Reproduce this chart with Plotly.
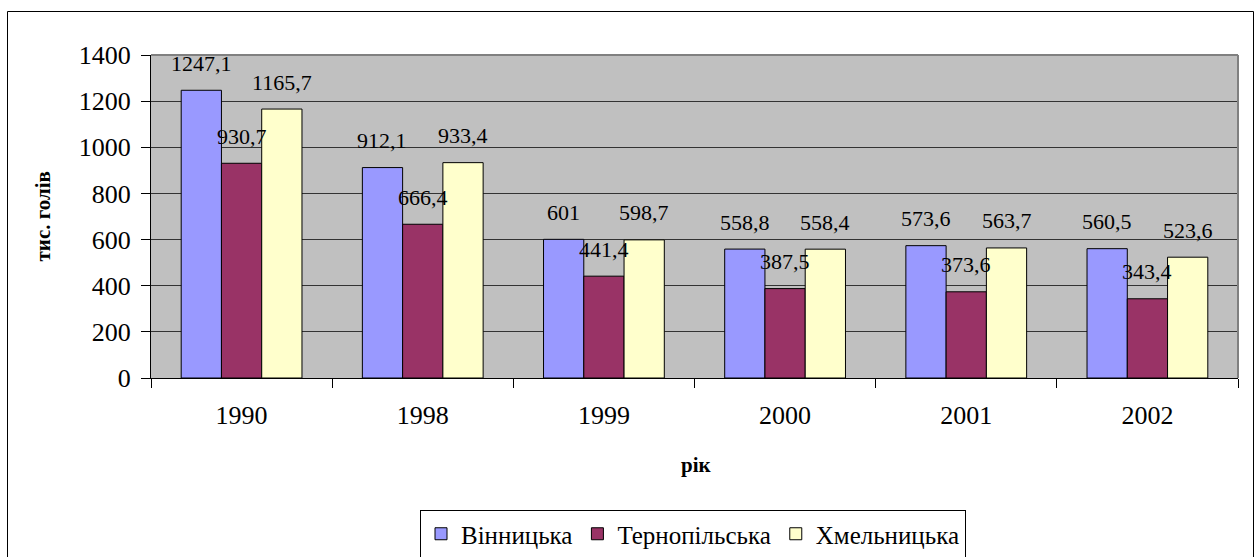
import plotly.graph_objects as go

years = ["1990", "1998", "1999", "2000", "2001", "2002"]
vinnytska = [1247.1, 912.1, 601, 558.8, 573.6, 560.5]
ternopilska = [930.7, 666.4, 441.4, 387.5, 373.6, 343.4]
khmelnytska = [1165.7, 933.4, 598.7, 558.4, 563.7, 523.6]

series = [
    ("Вінницька", vinnytska, "#9999FF"),
    ("Тернопільська", ternopilska, "#993366"),
    ("Хмельницька", khmelnytska, "#FFFFCC"),
]

FONT = "Liberation Serif"

W, H = 1258, 557
# target plot area in page pixels: x 151..1238, y 55..378
L, R, T, B = 151, 1258 - 1238, 55, 557 - 378
pw, ph = W - L - R, H - T - B

def px_x(x):
    return (x - L) / pw

def px_y(y):
    return (H - B - y) / ph

def fmt(v):
    s = ("%.1f" % v).rstrip("0").rstrip(".")
    return s.replace(".", ",")

fig = go.Figure()
for name, vals, color in series:
    fig.add_trace(go.Bar(
        x=years, y=vals, name=name,
        marker=dict(color=color, line=dict(color="black", width=1)),
    ))

# data labels (x given as category index)
cat_w = pw / len(years)
bar_w = cat_w * (1 - 1/3) / 3
annotations = []
for i, (name, vals, color) in enumerate(series):
    for j, v in enumerate(vals):
        annotations.append(dict(
            x=j, y=v, xref="x", yref="y", text=fmt(v), showarrow=False,
            xshift=(i - 1) * bar_w, yshift=27, yanchor="middle",
            font=dict(family=FONT, size=22, color="black"),
        ))

annotations.append(dict(
    x=px_x(42), y=0.5, xref="paper", yref="paper", text="<b>тис. голів</b>",
    textangle=-90, showarrow=False, xanchor="center", yanchor="middle",
    font=dict(family=FONT, size=21, color="black"),
))
annotations.append(dict(
    x=px_x(696), y=px_y(465), xref="paper", yref="paper", text="<b>рік</b>",
    showarrow=False, xanchor="center", yanchor="middle",
    font=dict(family=FONT, size=21, color="black"),
))

shapes = [
    dict(type="rect", xref="paper", yref="paper",
         x0=px_x(7.5), x1=px_x(1253.5), y0=px_y(575), y1=px_y(11.5),
         line=dict(color="black", width=1), fillcolor="rgba(0,0,0,0)", layer="below"),
    dict(type="line", xref="paper", yref="paper", x0=0, x1=1, y0=1, y1=1,
         line=dict(color="#808080", width=2)),
    dict(type="line", xref="paper", yref="paper", x0=1, x1=1, y0=0, y1=1,
         line=dict(color="#808080", width=2)),
]

fig.update_layout(
    width=W, height=H,
    margin=dict(l=L, r=R, t=T, b=B, autoexpand=False),
    paper_bgcolor="white", plot_bgcolor="#C0C0C0",
    barmode="group", bargap=1/3, bargroupgap=0,
    font=dict(family=FONT, color="black"),
    annotations=annotations, shapes=shapes,
    legend=dict(
        orientation="h", x=px_x(693), xanchor="center", y=px_y(510), yanchor="top",
        bordercolor="black", borderwidth=1, bgcolor="white",
        font=dict(family=FONT, size=25, color="black"),
        itemwidth=30, traceorder="normal",
    ),
    xaxis=dict(
        type="category", range=[-0.5, len(years) - 0.5],
        showline=True, linecolor="black", linewidth=1,
        ticks="outside", ticklen=9, tickcolor="black", tickson="boundaries",
        tickfont=dict(family=FONT, size=26, color="black"), tickangle=0,
        ticklabelstandoff=14,
        showgrid=False, fixedrange=True,
    ),
    yaxis=dict(
        range=[0, 1400], dtick=200, showline=True, linecolor="black", linewidth=1,
        ticks="outside", ticklen=9, tickcolor="black",
        tickfont=dict(family=FONT, size=26, color="black"),
        ticklabelstandoff=5,
        showgrid=True, gridcolor="#333333", gridwidth=1, zeroline=False,
        fixedrange=True,
    ),
)

fig.write_html(
    "out.html",
    config={"displayModeBar": False},
    post_script="document.body.style.margin='0';document.body.style.overflow='hidden';",
)
